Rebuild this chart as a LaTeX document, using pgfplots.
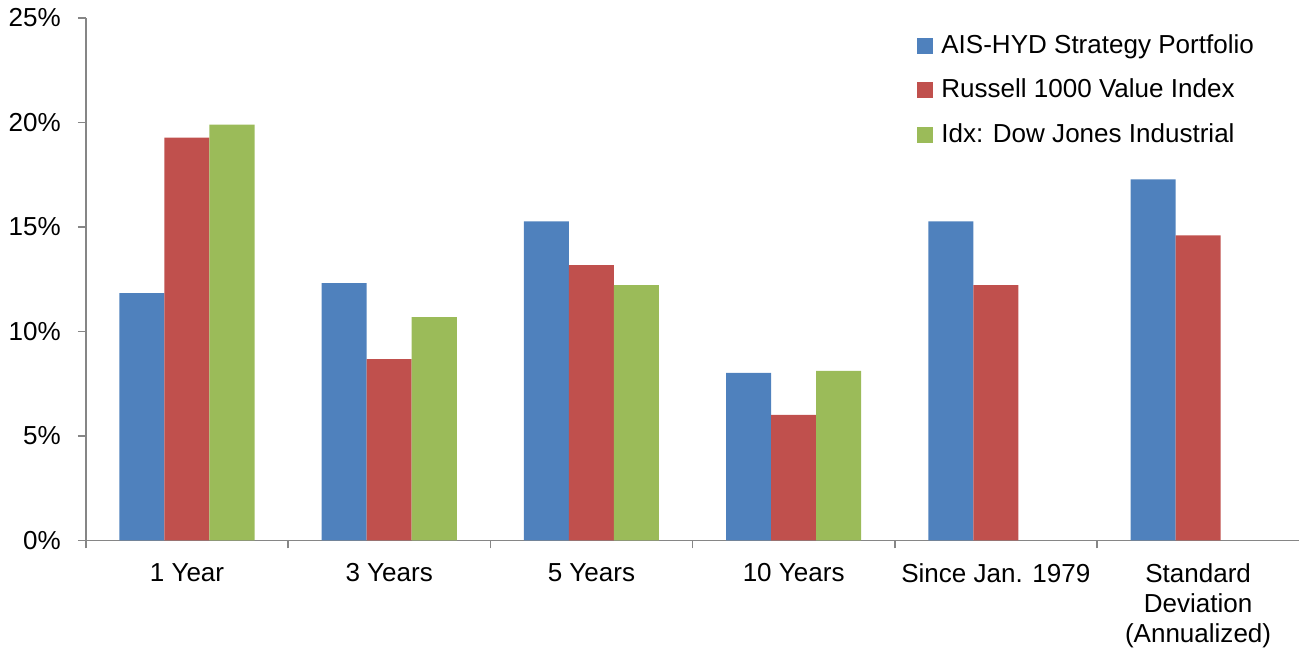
\documentclass[border=0pt]{standalone}
\usepackage{pgfplots}
\pgfplotsset{compat=1.18}
\usepackage{fontspec}
\setmainfont{Liberation Sans}
\definecolor{cblue}{HTML}{4F81BD}
\definecolor{cred}{HTML}{C0504D}
\definecolor{cgreen}{HTML}{9BBB59}
\definecolor{axgray}{HTML}{868686}
\begin{document}
\fontsize{13}{15}\selectfont
\begin{tikzpicture}
\begin{axis}[
  scale only axis,
  width=606pt, height=261pt,
  ybar=0pt, bar width=22.5pt,
  xmin=-0.5, xmax=5.5,
  ymin=0, ymax=25,
  axis lines=left,
  axis line style={-, draw=axgray, line width=0.8pt},
  tick align=outside,
  xtick={0,1,2,3,4,5},
  xticklabels={1 Year,3 Years,5 Years,10 Years,Since Jan. 1979,{Standard\\Deviation\\(Annualized)}},
  x tick label style={align=center, font=\fontsize{13}{15}\selectfont, yshift=-3pt},
  major x tick style={draw=none},
  minor xtick={-0.5,0.5,1.5,2.5,3.5,4.5},
  minor tick length=4pt,
  minor x tick style={draw=axgray, line width=0.8pt},
  ytick={0,5,10,15,20,25},
  yticklabels={0\%,5\%,10\%,15\%,20\%,25\%},
  y tick label style={font=\fontsize{13}{15}\selectfont, xshift=-4pt},
  major tick length=4pt,
  major y tick style={draw=axgray, line width=0.8pt},
  legend style={at={(0.68,0.985)}, anchor=north west, draw=none,
    font=\fontsize{13}{15}\selectfont, row sep=7pt, fill=none},
  legend cell align=left,
  legend image code/.code={\fill[#1] (0pt,-4pt) rectangle (8pt,4pt); \path (10pt,0pt);},
]
\addplot[fill=cblue, draw=none] coordinates {(0,11.83) (1,12.31) (2,15.27) (3,8.02) (4,15.27) (5,17.27)};
\addplot[fill=cred, draw=none] coordinates {(0,19.27) (1,8.68) (2,13.17) (3,6.01) (4,12.21) (5,14.6)};
\addplot[fill=cgreen, draw=none] coordinates {(0,19.9) (1,10.69) (2,12.21) (3,8.11)};
\legend{AIS-HYD Strategy Portfolio, Russell 1000 Value Index, Idx: Dow Jones Industrial}
\end{axis}
\end{tikzpicture}
\end{document}
